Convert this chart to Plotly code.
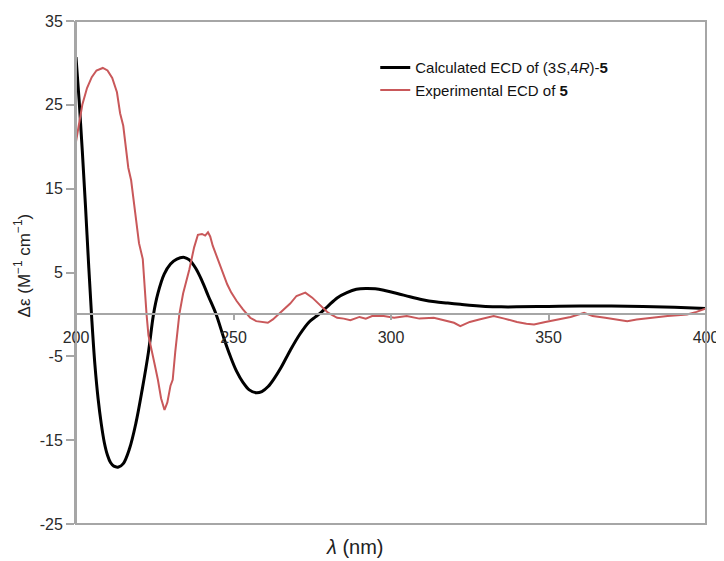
import plotly.graph_objects as go

# Calculated ECD of (3S,4R)-5
calc_x = [200, 201, 202, 203, 204, 205, 206, 207, 208, 209, 210, 211, 212, 213.5, 215, 217, 219, 221, 223,
          224.6, 226, 228, 230, 232, 234.4, 236, 238, 240, 242, 244.5, 247, 249, 251, 253, 255, 257.2, 259,
          261, 263, 265, 268, 271, 274, 276, 278, 280, 283, 286, 289, 292, 295, 298, 302, 306, 310, 314,
          318, 322, 326, 330, 335, 340, 350, 360, 370, 380, 390, 400]
calc_y = [30.7, 25.5, 19.5, 13, 6, -0.5, -6, -10, -13, -15.3, -16.8, -17.7, -18.1, -18.2, -17.8, -16, -13, -9, -4.5,
          0, 2.5, 4.8, 6.0, 6.6, 6.8, 6.5, 5.5, 4.0, 2.2, 0, -2.9, -5, -6.8, -8.1, -9.0, -9.35, -9.2,
          -8.6, -7.6, -6.4, -4.3, -2.4, -0.9, -0.3, 0.3, 1.0, 2.0, 2.6, 3.0, 3.1, 3.05, 2.85, 2.5, 2.1, 1.75, 1.5,
          1.35, 1.2, 1.05, 0.95, 0.9, 0.9, 0.95, 1.0, 1.0, 0.95, 0.85, 0.7]

# Experimental ECD of 5
exp_x = [200, 201, 202, 203.5, 205, 206.5, 208.5, 210, 211.5, 213, 214, 215, 216.6, 217.5, 218.5, 219.2, 220,
         221.2, 221.8, 222.4, 223, 223.8, 225, 226, 227, 228.1, 229, 230, 230.7, 231.5, 232.8, 234, 236,
         237.5, 238.7, 240, 241, 241.9, 242.6, 243.4, 245, 246.6, 248, 249.3, 251, 253, 255.3, 257.2, 259,
         260.9, 262.5, 263.6, 265.9, 268, 270, 272.8, 275, 277.6, 280, 282.9, 285, 287.1, 290, 292, 294,
         297.7, 301, 305, 309, 313.6, 317, 320, 322, 325, 328, 332.6, 336, 340, 343, 345.4, 349, 353, 357,
         361.3, 364, 368, 372, 375, 378, 382, 385, 387.8, 391, 394, 397, 400]
exp_y = [20.6, 23, 25, 27, 28.3, 29.1, 29.4, 29.1, 28.2, 26.5, 24, 22.5, 17.5, 16, 13, 10.5, 8.5,
         6.6, 3, 0, -2.5, -3.8, -6, -7.8, -10, -11.4, -10.5, -8.5, -7.8, -4.5, 0, 2.5, 5.4,
         8, 9.5, 9.6, 9.4, 9.8, 9.3, 8.2, 6.6, 5.0, 3.6, 2.6, 1.6, 0.6, -0.4, -0.8, -0.9,
         -1.0, -0.6, -0.2, 0.6, 1.3, 2.2, 2.6, 2.0, 1.0, 0.2, -0.4, -0.5, -0.7, -0.3, -0.5, -0.2,
         -0.2, -0.4, -0.2, -0.5, -0.4, -0.7, -1.0, -1.4, -0.9, -0.6, -0.2, -0.5, -0.9, -1.1, -1.2, -0.9, -0.6, -0.3,
         0.2, -0.2, -0.4, -0.6, -0.8, -0.6, -0.4, -0.3, -0.2, -0.1, 0.0, 0.3, 0.7]

x_ticks = [200, 250, 300, 350, 400]
y_ticks = [-25, -15, -5, 5, 15, 25, 35]

GRAY = "#a6a6a6"
FONT = "Liberation Sans, Arial, sans-serif"

fig = go.Figure()
fig.add_trace(go.Scatter(x=calc_x, y=calc_y, mode="lines", line=dict(color="black", width=3, shape="spline"),
                         name="Calculated ECD of (3<i>S</i>,4<i>R</i>)-<b>5</b>"))
fig.add_trace(go.Scatter(x=exp_x, y=exp_y, mode="lines", line=dict(color="#c9585a", width=2),
                         name="Experimental ECD of <b>5</b>"))

# page body has an 8px margin, so the figure is sized/offset to compensate
fig.update_layout(
    width=716, height=553,
    margin=dict(l=68, r=18, t=13, b=37, autoexpand=False),
    paper_bgcolor="white", plot_bgcolor="white",
    font=dict(family=FONT, color="#222"),
    showlegend=True,
    legend=dict(x=0.475, y=0.94, xanchor="left", yanchor="top", bgcolor="rgba(0,0,0,0)",
                font=dict(size=15, family=FONT, color="#111"), tracegroupgap=0, itemwidth=30),
    xaxis=dict(range=[200, 400], tickvals=x_ticks, ticktext=[str(v) for v in x_ticks],
               anchor="free", position=25/60, showline=True, linecolor=GRAY, linewidth=2,
               ticks="outside", ticklen=5, tickcolor=GRAY, tickwidth=1.5, automargin=False,
               showgrid=False, zeroline=False, tickfont=dict(size=16, family=FONT, color="#2a2a2a"),
               ticklabelstandoff=3),
    yaxis=dict(range=[-25, 35], tickvals=y_ticks, ticktext=[str(v) for v in y_ticks],
               showline=True, linecolor=GRAY, linewidth=2, ticks="outside", ticklen=8, automargin=False,
               tickcolor=GRAY, tickwidth=1.5, showgrid=False, zeroline=False,
               tickfont=dict(size=16, family=FONT, color="#2a2a2a")),
    shapes=[dict(type="rect", xref="paper", yref="paper", x0=0, x1=1, y0=0, y1=1,
                 line=dict(color=GRAY, width=2), layer="above")],
    annotations=[
        dict(text="<i>λ</i> (nm)", xref="paper", yref="paper", x=0.443, y=-0.046,
             showarrow=False, font=dict(size=20, family=FONT, color="#222"), xanchor="center", yanchor="middle"),
        dict(text="Δε (M<sup>−1</sup> cm<sup>−1</sup>)", xref="paper", yref="paper", x=-0.085, y=0.515,
             showarrow=False, textangle=-90, font=dict(size=17, family=FONT, color="#222"),
             xanchor="center", yanchor="middle"),
    ],
)

fig.write_html("out.html")
